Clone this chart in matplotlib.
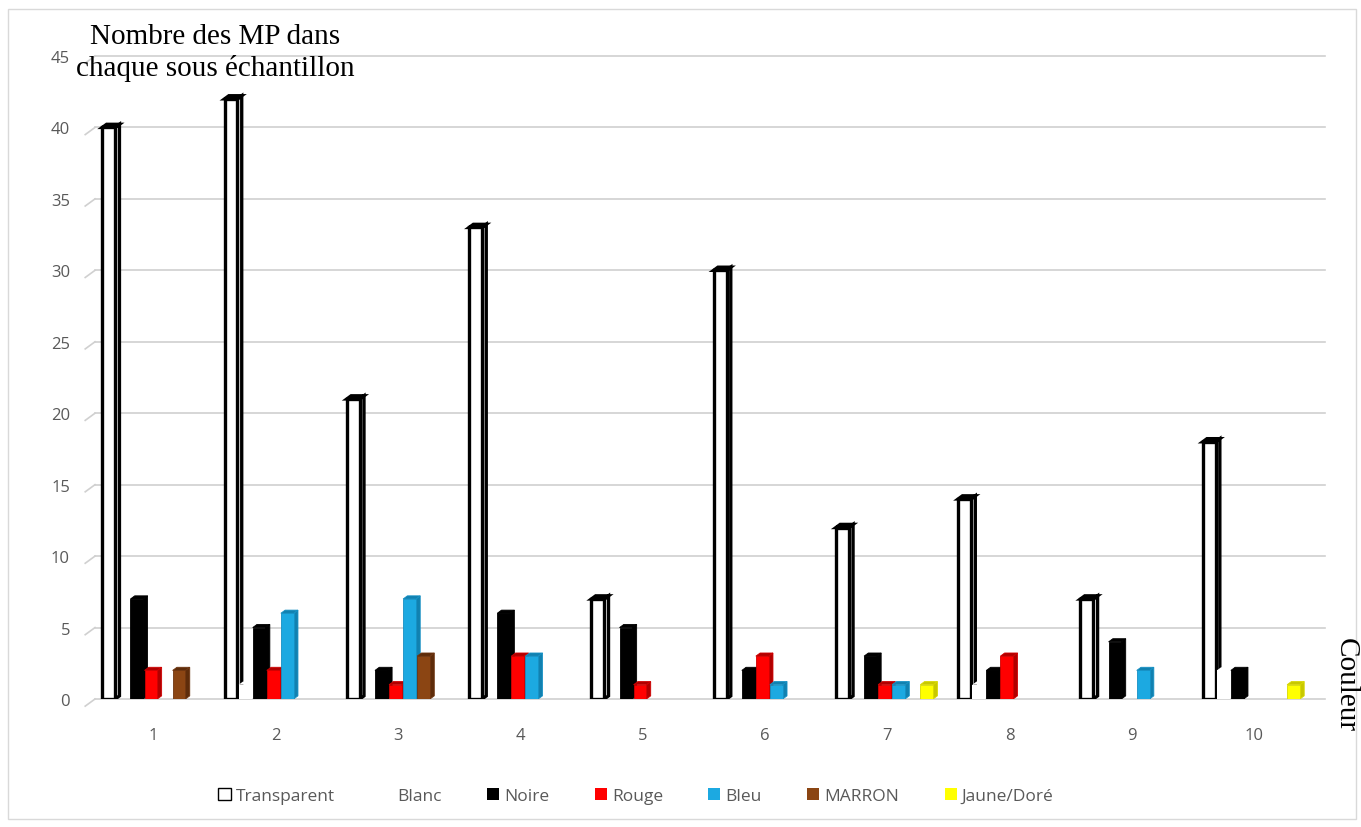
import matplotlib.pyplot as plt
from matplotlib.patches import Polygon, Rectangle, Patch
import numpy as np

plt.rcParams['font.family'] = ['Open Sans', 'DejaVu Sans']

samples = ["1", "2", "3", "4", "5", "6", "7", "8", "9", "10"]
series = ["Transparent", "Blanc", "Noire", "Rouge", "Bleu", "MARRON", "Jaune/Doré"]
transparent = [40, 42, 21, 33, 7, 30, 12, 14, 7, 18]
blanc = [0, 1, 0, 0, 0, 0, 0, 1, 0, 2]
noire = [7, 5, 2, 6, 5, 2, 3, 2, 4, 2]
rouge = [2, 2, 1, 3, 1, 3, 1, 3, 0, 0]
bleu = [0, 6, 7, 3, 0, 1, 1, 0, 2, 0]
marron = [2, 0, 3, 0, 0, 0, 0, 0, 0, 0]
jaune = [0, 0, 0, 0, 0, 0, 1, 0, 0, 1]
yticks = [0, 5, 10, 15, 20, 25, 30, 35, 40, 45]

values = [transparent, blanc, noire, rouge, bleu, marron, jaune]
faces = ["white", "white", "black", "#ff0000", "#1ca9e1", "#8b4513", "#ffff00"]
sides = ["white", "white", "black", "#b00000", "#1181b0", "#5e2c0a", "#c8c800"]
edges = ["black", "none", "black", "#d00000", "#1590c4", "#6e3510", "#d8d800"]
lws = [2.4, 0, 0.6, 0.6, 0.6, 0.6, 0.6]

grey = "#595959"
w, step, dx, dy = 0.105, 0.115, 0.035, 0.22

fig = plt.figure(figsize=(13.61, 8.28), dpi=100)
ax = fig.add_axes([95 / 1361, 1 - 700 / 828, 1230 / 1361, 643 / 828])
ax.set_xlim(0.52, 10.58)
ax.set_ylim(0, 45)
for sp in ax.spines.values():
    sp.set_visible(False)

# back wall grid with a short slanted floor edge on the left
for t in yticks:
    ax.plot([0.52, 10.58], [t, t], color="#d0d0d0", lw=1.2, zorder=0, clip_on=False)
    ax.plot([0.44, 0.52], [t - 0.5, t], color="#d0d0d0", lw=1.2, zorder=0, clip_on=False)

x_cat = np.arange(1, len(samples) + 1)
for s, vals in enumerate(values):
    z = 2 + s
    for i, h in enumerate(vals):
        if h <= 0:
            continue
        x0 = x_cat[i] - 0.42 + s * step
        ax.bar(x0, h, width=w, align="edge", color=faces[s], edgecolor=edges[s],
               linewidth=lws[s], zorder=z + 0.2)
        side = Polygon([(x0 + w, 0), (x0 + w + dx, dy), (x0 + w + dx, h + dy), (x0 + w, h)],
                       closed=True, facecolor=sides[s], edgecolor=edges[s],
                       linewidth=lws[s], zorder=z)
        top = Polygon([(x0, h), (x0 + dx, h + dy), (x0 + w + dx, h + dy), (x0 + w, h)],
                      closed=True, facecolor=sides[s] if s > 1 else "white",
                      edgecolor=edges[s], linewidth=lws[s], zorder=z + 0.1)
        ax.add_patch(side)
        ax.add_patch(top)

ax.set_yticks(yticks)
ax.set_xticks(x_cat)
ax.set_xticklabels(samples)
ax.tick_params(axis="both", length=0, colors=grey, labelsize=12)
ax.tick_params(axis="y", pad=18)
ax.tick_params(axis="x", pad=20)

fig.text(215 / 1361, 1 - 53 / 828, "Nombre des MP dans\nchaque sous échantillon",
         family="Liberation Serif", fontsize=21, ha="center", va="center",
         linespacing=1.25, color="black")
fig.text(1346 / 1361, 1 - 685 / 828, "Couleur", family="Liberation Serif",
         fontsize=21, rotation=-90, ha="center", va="center", color="black")

handles = [Patch(facecolor=faces[s], edgecolor=("black" if s == 0 else "none"),
                 linewidth=1.0) for s in range(len(series))]
fig.legend(handles, series, loc="center", bbox_to_anchor=(636 / 1361, 1 - 797 / 828),
           ncol=7, frameon=False, fontsize=12.5, labelcolor=grey, handlelength=0.7,
           handleheight=0.7, handletextpad=0.3, columnspacing=2.6)

fig.add_artist(Rectangle((8 / 1361, 1 - 820 / 828), 1348 / 1361, 810 / 828,
                         transform=fig.transFigure, fill=False, edgecolor="#d9d9d9", lw=1))

fig.savefig("out.png", dpi=100)
